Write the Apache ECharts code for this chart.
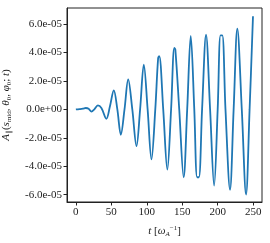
<!DOCTYPE html>
<html><head><meta charset="utf-8">
<script src="https://cdn.jsdelivr.net/npm/echarts@6/dist/echarts.min.js"></script>
<style>html,body{margin:0;padding:0;background:#fff}#c{width:270px;height:243px}</style>
</head><body><div id="c"></div>
<script>
// time samples [omega_A^-1]
const times = [0,5,10,14,18,22,26,31,36,43,48,53.5,58.5,63.4,68.6,73.8,79.6,85.5,90.6,95.8,101.2,106.6,112,116,117.6,123.2,129,134.3,138.8,140.3,145.8,152,157,162,167,171,173.5,178,183.6,189.3,195,200,204,206.5,211,217.4,222.5,227.7,234,240,245,249.8];
// A_par values in units of 1e-5
const values = [0,0.02,0.05,0.1,0.05,-0.15,0.0,0.28,0.1,-0.66,0.2,1.34,0.0,-1.78,0.0,2.11,0.0,-2.58,0.0,3.15,0.0,-3.52,0.0,3.6,3.75,0.0,-4.23,0.0,4.32,4.2,0.0,-4.77,0.0,5.16,0.0,-4.77,-4.77,0.0,5.26,0.0,-5.35,0.0,5.21,5.21,0.0,-5.65,0.0,5.68,0.0,-5.99,0.0,6.55];
const xTicks = [0,50,100,150,200,250];
const yTicks = [-6e-5,-4e-5,-2e-5,0,2e-5,4e-5,6e-5];

const data = times.map((t,i)=>[t, values[i]*1e-5]);
function fmt(v){
  let s = Number(v).toExponential(1);
  let m = s.split('e');
  let sign = m[1][0]==='-' ? '-' : '+';
  let e = Math.abs(parseInt(m[1],10));
  return m[0] + 'e' + sign + (e<10?'0':'') + e;
}
const font = 'Liberation Serif';
const chart = echarts.init(document.getElementById('c'));
chart.setOption({
  animation:false,
  grid:{left:67,right:8,top:8,bottom:41,containLabel:false,outerBoundsMode:'none',show:true,borderColor:'#222',borderWidth:1,backgroundColor:'transparent'},
  xAxis:{type:'value',min:-12.5,max:262.5,
    axisLine:{show:true,onZero:false,lineStyle:{color:'#222',width:1}},
    axisTick:{show:true,length:3.5,customValues:xTicks,lineStyle:{color:'#222'}},
    axisLabel:{customValues:xTicks,fontFamily:font,fontSize:11,color:'#222',margin:5},
    splitLine:{show:false},
    name:'{i|t} {n|[}{i|ω}{sub|A}{sup|−1}{n|]}',nameLocation:'middle',nameGap:23,
    nameTextStyle:{fontFamily:font,fontSize:11,color:'#222',rich:{
      i:{fontFamily:font,fontStyle:'italic',fontSize:11,color:'#222'},
      n:{fontFamily:font,fontSize:11,color:'#222'},
      sub:{fontFamily:font,fontStyle:'italic',fontSize:7,color:'#222',verticalAlign:'bottom',padding:[6,0,0,0]},
      sup:{fontFamily:font,fontSize:7,color:'#222',verticalAlign:'top',padding:[0,0,6,0]}
    }}
  },
  yAxis:{type:'value',min:-6.51e-5,max:7.13e-5,
    axisLine:{show:true,onZero:false,lineStyle:{color:'#222',width:1}},
    axisTick:{show:true,length:3.5,customValues:yTicks,lineStyle:{color:'#222'}},
    axisLabel:{customValues:yTicks,formatter:fmt,fontFamily:font,fontSize:11,color:'#222',margin:5},
    splitLine:{show:false},
    name:'{i|A}{sub|∥}{n|(}{i|s}{sub2|mid}{n|, }{i|θ}{sub|0}{n|, }{i|φ}{sub|0}{n|; }{i|t}{n|)}',
    nameLocation:'middle',nameGap:54,nameRotate:90,
    nameTextStyle:{fontFamily:font,fontSize:11,color:'#222',rich:{
      i:{fontFamily:font,fontStyle:'italic',fontSize:11,color:'#222'},
      n:{fontFamily:font,fontSize:11,color:'#222'},
      sub:{fontFamily:font,fontSize:7,color:'#222',verticalAlign:'bottom',padding:[6,0,0,0]},
      sub2:{fontFamily:font,fontSize:7,color:'#222',verticalAlign:'bottom',padding:[6,0,0,0]}
    }}
  },
  series:[{type:'line',data:data,showSymbol:false,smooth:0.35,
    lineStyle:{color:'#1f77b4',width:1.8},itemStyle:{color:'#1f77b4'}}]
});
</script></body></html>
